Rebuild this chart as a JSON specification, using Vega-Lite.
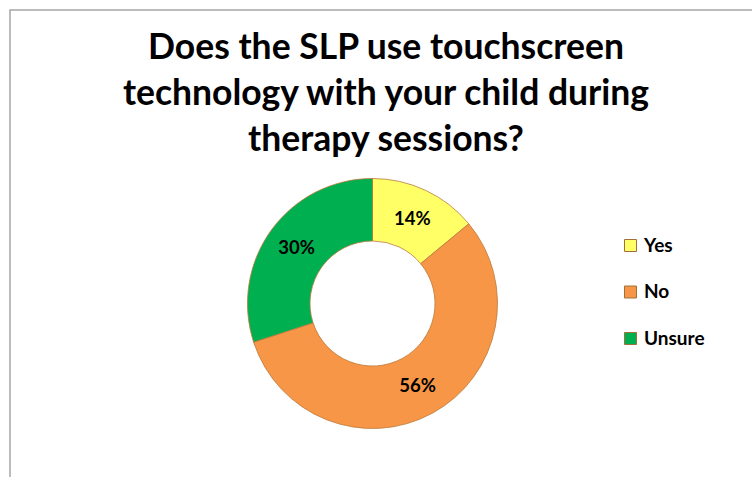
{
  "$schema": "https://vega.github.io/schema/vega-lite/v6.json",
  "width": 770,
  "height": 500,
  "autosize": {"type": "none"},
  "padding": {"left": 10, "top": 10, "right": 0, "bottom": 0},
  "background": "white",
  "view": {"stroke": "#a6a6a6", "strokeWidth": 1.5},
  "title": {
    "text": ["Does the SLP use touchscreen", "technology with your child during", "therapy sessions?"],
    "font": "Lato",
    "fontSize": 35.5,
    "fontWeight": "bold",
    "color": "#000000",
    "anchor": "middle",
    "frame": "group",
    "dx": -9,
    "offset": -183,
    "lineHeight": 46,
    "baseline": "bottom"
  },
  "data": {
    "values": [
      {"answer": "Yes", "pct": 14, "label": "14%", "order": 1},
      {"answer": "No", "pct": 56, "label": "56%", "order": 2},
      {"answer": "Unsure", "pct": 30, "label": "30%", "order": 3}
    ]
  },
  "encoding": {
    "theta": {"field": "pct", "type": "quantitative", "stack": true},
    "order": {"field": "order", "type": "quantitative"}
  },
  "layer": [
    {
      "mark": {"type": "arc", "outerRadius": 125, "innerRadius": 62.5, "stroke": "#b97a3c", "strokeWidth": 0.8, "xOffset": -22.5, "yOffset": 43.5},
      "encoding": {
        "color": {
          "field": "answer",
          "type": "nominal",
          "scale": {"domain": ["Yes", "No", "Unsure"], "range": ["#FFFF66", "#F79646", "#00B050"]},
          "legend": {
            "orient": "none",
            "legendX": 611,
            "legendY": 226,
            "title": null,
            "symbolType": "square",
            "symbolSize": 144,
            "symbolStrokeColor": "#a0703a",
            "symbolStrokeWidth": 1,
            "labelFont": "Lato",
            "labelFontSize": 19,
            "labelFontWeight": "bold",
            "labelColor": "#000000",
            "labelOffset": 4,
            "rowPadding": 26.5
          }
        }
      }
    },
    {
      "mark": {"type": "text", "radius": 93.75, "font": "Lato", "fontSize": 18.5, "fontWeight": "bold", "color": "#000000", "xOffset": -22.5, "yOffset": 43.5},
      "encoding": {"text": {"field": "label", "type": "nominal"}}
    }
  ]
}
